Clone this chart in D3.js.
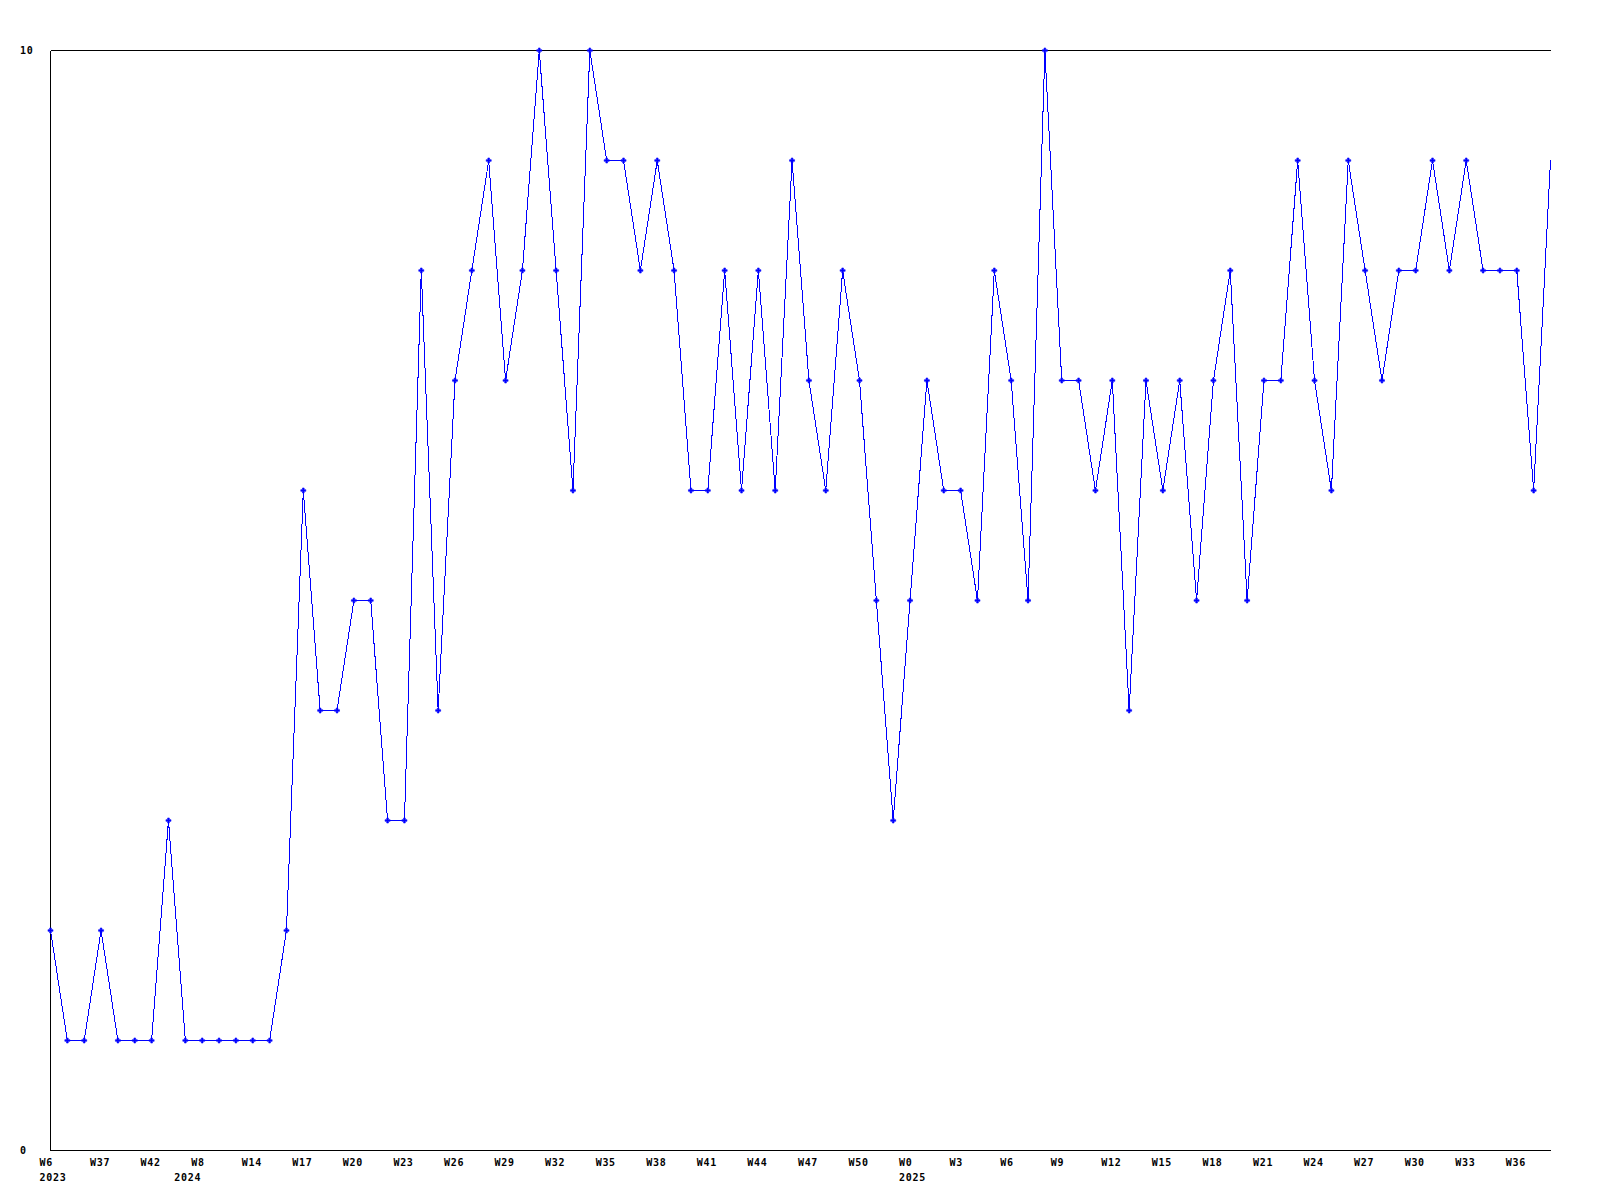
<!DOCTYPE html>
<html>
<head>
<meta charset="utf-8">
<script src="https://cdn.jsdelivr.net/npm/d3@7"></script>
<style>
    html, body { margin: 0; padding: 0; background: #fff; }
    svg { display: block; }
    text { font-family: 'DejaVu Sans Mono', 'Liberation Mono', monospace; font-weight: bold; font-size: 10px; letter-spacing: 0.7px; fill: #000; }
</style>
</head>
<body>
<svg id="chart" width="1600" height="1200"></svg>
<script>
'use strict';

// one value per sample, left to right
var values = [
    2, 1, 1, 2, 1, 1, 1, 3, 1, 1,
    1, 1, 1, 1, 2, 6, 4, 4, 5, 5,
    3, 3, 8, 4, 7, 8, 9, 7, 8, 10,
    8, 6, 10, 9, 9, 8, 9, 8, 6, 6,
    8, 6, 8, 6, 9, 7, 6, 8, 7, 5,
    3, 5, 7, 6, 6, 5, 8, 7, 5, 10,
    7, 7, 6, 7, 4, 7, 6, 7, 5, 7,
    8, 5, 7, 7, 9, 7, 6, 9, 8, 7,
    8, 8, 9, 8, 9, 8, 8, 8, 6, 9
];

// a week label every third sample
var tickStep = 3;
var tickLabels = [
    'W6', 'W37', 'W42', 'W8', 'W14', 'W17', 'W20', 'W23', 'W26', 'W29',
    'W32', 'W35', 'W38', 'W41', 'W44', 'W47', 'W50', 'W0', 'W3', 'W6',
    'W9', 'W12', 'W15', 'W18', 'W21', 'W24', 'W27', 'W30', 'W33', 'W36'
];
// year labels sit under the sample where the year starts
var yearIndex = [0, 8, 51];
var yearNames = ['2023', '2024', '2025'];

var yDomain = [0, 10];
var yTickLabels = [0, 10];

var svg = d3.select('#chart');

var LEFT = 50.5, RIGHT = 1550.5, TOP = 50.5, BOTTOM = 1150.5;
var LABEL_SHIFT = 11;

var x = d3.scaleLinear()
    .domain([0, values.length - 1])
    .range([LEFT, RIGHT]);
var y = d3.scaleLinear()
    .domain(yDomain)
    .range([BOTTOM, TOP]);

// frame: top, left, bottom
var frame = svg.append('g')
    .style('stroke', '#000')
    .style('stroke-width', 1)
    .style('shape-rendering', 'crispEdges');
frame.append('line')
    .attr('x1', LEFT).attr('x2', RIGHT)
    .attr('y1', y(yDomain[1])).attr('y2', y(yDomain[1]));
frame.append('line')
    .attr('x1', LEFT).attr('x2', LEFT)
    .attr('y1', TOP).attr('y2', BOTTOM);
frame.append('line')
    .attr('x1', LEFT).attr('x2', RIGHT)
    .attr('y1', BOTTOM).attr('y2', BOTTOM);

// y labels, left aligned
svg.append('g')
    .selectAll('text')
    .data(yTickLabels)
    .enter().append('text')
    .attr('x', 20)
    .attr('y', function(d) { return y(d); })
    .attr('dy', '0.35em')
    .text(function(d) { return d; });

// week labels, text starts a bit left of the sample
svg.append('g')
    .selectAll('text')
    .data(tickLabels)
    .enter().append('text')
    .attr('x', function(d, i) { return x(i * tickStep) - LABEL_SHIFT; })
    .attr('y', 1162.5)
    .attr('dy', '0.35em')
    .text(function(d) { return d; });

// year labels on a second row
svg.append('g')
    .selectAll('text')
    .data(yearNames)
    .enter().append('text')
    .attr('x', function(d, i) { return x(yearIndex[i]) - LABEL_SHIFT; })
    .attr('y', 1177.5)
    .attr('dy', '0.35em')
    .text(function(d) { return d; });

// series line
var line = d3.line()
    .x(function(d, i) { return x(i); })
    .y(function(d) { return y(d); });

svg.append('path')
    .datum(values)
    .attr('d', line)
    .style('fill', 'none')
    .style('stroke', '#0000ff')
    .style('stroke-width', 1)
    .style('shape-rendering', 'crispEdges');

// markers (none on the last sample, it sits on the edge)
var marker = d3.symbol().type(d3.symbolCross).size(14);
svg.append('g')
    .selectAll('path')
    .data(values.slice(0, values.length - 1))
    .enter().append('path')
    .attr('d', marker)
    .attr('transform', function(d, i) {
        return 'translate(' + x(i) + ',' + y(d) + ')';
    })
    .style('fill', '#0000ff')
    .style('stroke', '#0000ff')
    .style('stroke-width', 0.6);
</script>
</body>
</html>
